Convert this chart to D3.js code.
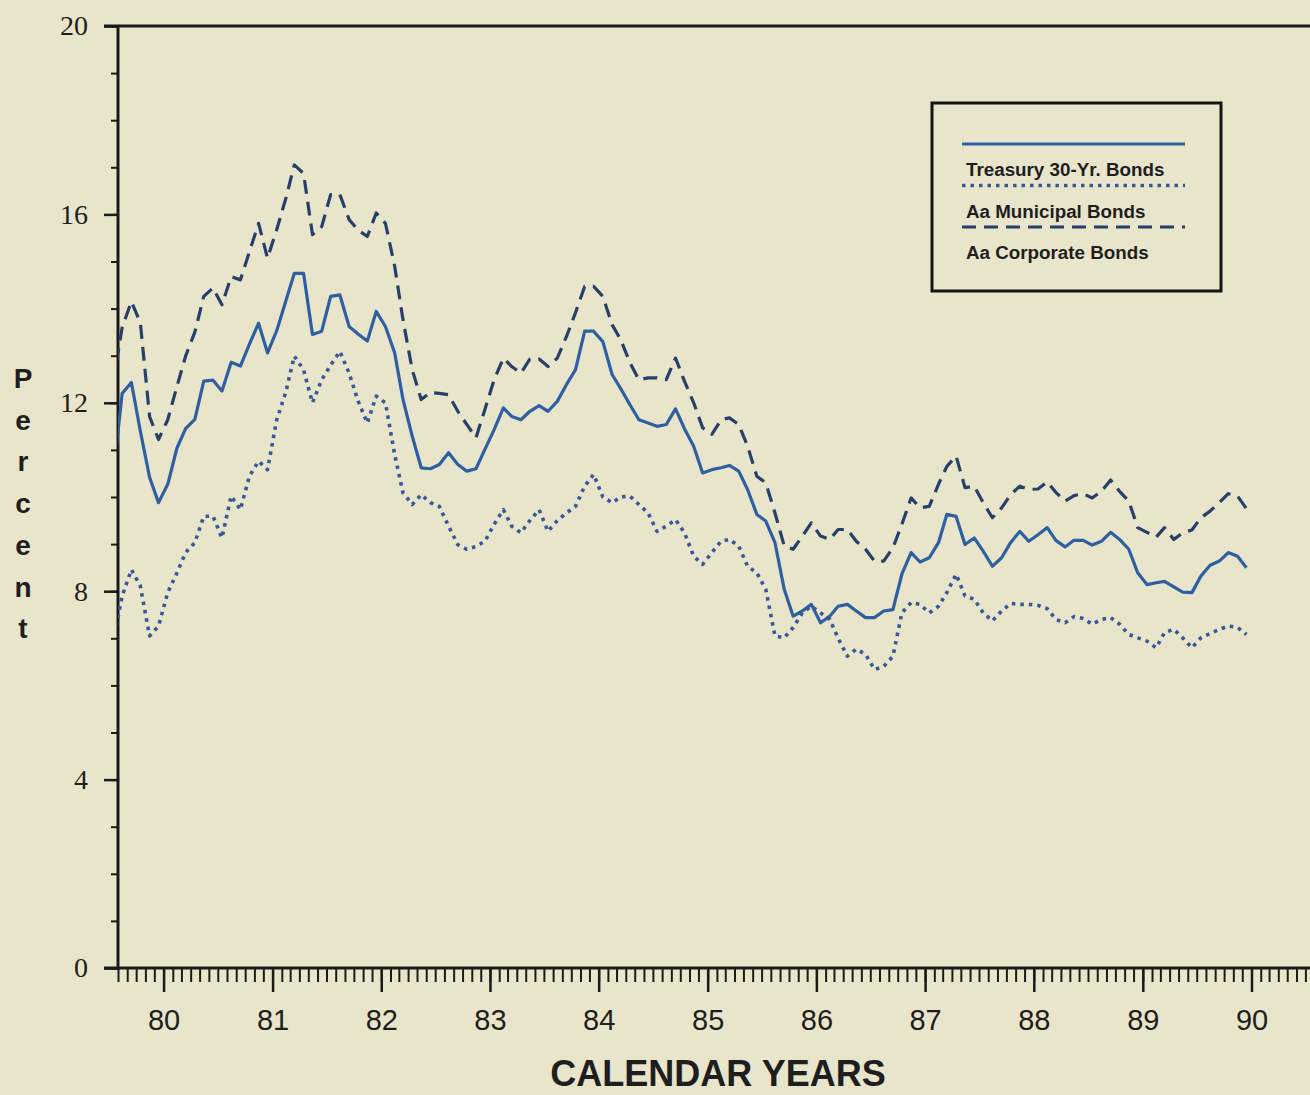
<!DOCTYPE html>
<html>
<head>
<meta charset="utf-8">
<script src="https://cdn.jsdelivr.net/npm/d3@7"></script>
<style>
  html, body { margin: 0; padding: 0; background: #e9e5cb; }
  svg { display: block; }
</style>
</head>
<body>
<svg></svg>
<script>
// monthly averages, Jul 1979 .. Dec 1989 (first point is clipped by the axis)
const firstMonth = new Date(1979, 6, 15);

const treasury = [
  10.4, 12.2, 12.43, 11.4, 10.42, 9.88, 10.27, 11.04, 11.45, 11.65, 12.46, 12.48, 12.25,
  12.86, 12.78, 13.24, 13.69, 13.06, 13.53, 14.17, 14.75, 14.75, 13.45, 13.52, 14.26,
  14.29, 13.62, 13.46, 13.31, 13.94, 13.62, 13.06, 12.07, 11.29, 10.62, 10.6, 10.69,
  10.94, 10.69, 10.55, 10.6, 11.01, 11.43, 11.89, 11.71, 11.64, 11.82, 11.94, 11.82,
  12.03, 12.39, 12.7, 13.52, 13.52, 13.3, 12.6, 12.3, 11.96, 11.64, 11.57, 11.5, 11.54,
  11.87, 11.45, 11.08, 10.51, 10.58, 10.62, 10.67, 10.55, 10.16, 9.63, 9.49, 9.03, 8.04,
  7.47, 7.58, 7.72, 7.33, 7.47, 7.68, 7.72, 7.58, 7.44, 7.44, 7.58, 7.61, 8.36, 8.82,
  8.62, 8.71, 9.03, 9.63, 9.59, 8.99, 9.13, 8.85, 8.53, 8.71, 9.03, 9.27, 9.06, 9.2,
  9.35, 9.08, 8.94, 9.08, 9.08, 8.98, 9.06, 9.25, 9.1, 8.89, 8.39, 8.14, 8.18, 8.21,
  8.09, 7.98, 7.97, 8.32, 8.55, 8.64, 8.82, 8.74, 8.5
];

const municipal = [
  6.9, 7.9, 8.46, 8.11, 7.05, 7.26, 7.97, 8.39, 8.82, 9.03, 9.59, 9.59, 9.13, 10.02,
  9.73, 10.44, 10.76, 10.58, 11.64, 12.24, 12.99, 12.7, 12.0, 12.49, 12.8, 13.09, 12.63,
  12.04, 11.57, 12.14, 12.0, 10.9, 10.09, 9.84, 10.05, 9.88, 9.8, 9.38, 8.99, 8.89,
  8.95, 9.06, 9.42, 9.73, 9.38, 9.24, 9.5, 9.73, 9.27, 9.5, 9.66, 9.8, 10.23, 10.48,
  10.0, 9.88, 10.0, 10.02, 9.84, 9.66, 9.27, 9.38, 9.52, 9.24, 8.74, 8.57, 8.82, 9.06,
  9.1, 8.96, 8.53, 8.39, 8.04, 7.05, 7.01, 7.23, 7.54, 7.68, 7.54, 7.4, 7.0, 6.62, 6.77,
  6.66, 6.34, 6.4, 6.62, 7.54, 7.76, 7.72, 7.54, 7.68, 7.97, 8.36, 7.9, 7.83, 7.54,
  7.37, 7.58, 7.74, 7.72, 7.72, 7.7, 7.63, 7.4, 7.33, 7.46, 7.42, 7.3, 7.4, 7.44, 7.3,
  7.08, 7.01, 6.94, 6.8, 7.12, 7.19, 7.01, 6.8, 7.01, 7.1, 7.19, 7.26, 7.23, 7.08
];

const corporate = [
  12.4, 13.6, 14.15, 13.7, 11.71, 11.22, 11.64, 12.35, 12.99, 13.5, 14.26, 14.44, 14.08,
  14.68, 14.61, 15.2, 15.81, 15.07, 15.68, 16.35, 17.05, 16.87, 15.57, 15.74, 16.42,
  16.42, 15.89, 15.67, 15.53, 16.03, 15.81, 14.9, 13.76, 12.7, 12.07, 12.22, 12.2,
  12.17, 11.82, 11.54, 11.26, 11.86, 12.49, 12.95, 12.77, 12.63, 12.93, 12.93, 12.77,
  12.95, 13.41, 13.91, 14.47, 14.47, 14.26, 13.66, 13.34, 12.85, 12.49, 12.53, 12.53,
  12.49, 12.95, 12.46, 12.0, 11.47, 11.33, 11.64, 11.68, 11.54, 11.08, 10.44, 10.3,
  9.66, 8.96, 8.89, 9.17, 9.45, 9.17, 9.1, 9.31, 9.31, 9.06, 8.89, 8.64, 8.64, 8.92,
  9.42, 9.98, 9.77, 9.8, 10.27, 10.65, 10.87, 10.2, 10.23, 9.88, 9.56, 9.77, 10.05,
  10.23, 10.16, 10.17, 10.32, 10.1, 9.91, 10.03, 10.07, 9.98, 10.12, 10.36, 10.12, 9.91,
  9.35, 9.25, 9.15, 9.35, 9.1, 9.24, 9.3, 9.56, 9.7, 9.88, 10.07, 10.02, 9.75
];

const seriesNames = ['Treasury 30-Yr. Bonds', 'Aa Municipal Bonds', 'Aa Corporate Bonds'];
const seriesValues = [treasury, municipal, corporate];
const yTicks = [0, 4, 8, 12, 16, 20];
const yLabel = 'Percent';
const xLabel = 'CALENDAR YEARS';

const styles = [
  { color: '#2f5fa3', width: 3.2, dash: null },
  { color: '#34589a', width: 3.6, dash: '3.5,5' },
  { color: '#27406b', width: 3.2, dash: '14,8' }
];

const W = 1310, H = 1095;
const svg = d3.select('svg').attr('width', W).attr('height', H);

const x0 = d3.scaleTime()
  .domain([new Date(1979, 7, 1), new Date(1990, 0, 1)])
  .range([118, 1251.5]);
const x = d3.scaleTime()
  .domain([x0.domain()[0], x0.invert(W)])
  .range([118, W]);
const y = d3.scaleLinear().domain([0, 20]).range([968, 26]);

const monthDate = i => d3.timeMonth.offset(firstMonth, i);

svg.append('defs').append('clipPath').attr('id', 'plot')
  .append('rect')
  .attr('x', x.range()[0]).attr('y', 0)
  .attr('width', W - x.range()[0]).attr('height', y(0));

// y axis: minor ticks every 1 %, labelled every 4 %
svg.append('g')
  .attr('transform', `translate(${x.range()[0]},0)`)
  .call(d3.axisLeft(y).tickValues(d3.range(0, 21)).tickSize(7).tickFormat(''))
  .call(g => g.select('.domain').remove())
  .call(g => g.selectAll('line').attr('stroke', '#1a1a1a').attr('stroke-width', 2));

svg.append('g')
  .attr('transform', `translate(${x.range()[0]},0)`)
  .call(d3.axisLeft(y).tickValues(yTicks).tickSize(14).tickPadding(16))
  .call(g => g.select('.domain').remove())
  .call(g => g.selectAll('line').attr('stroke', '#1a1a1a').attr('stroke-width', 2.5))
  .call(g => g.selectAll('text')
    .attr('fill', '#1e1e1e')
    .style('font-family', '"Liberation Serif", "Times New Roman", serif')
    .style('font-size', '28px'));

// x axis: monthly minor ticks, yearly major ticks
svg.append('g')
  .attr('transform', `translate(0,${y(0)})`)
  .call(d3.axisBottom(x).ticks(d3.timeMonth.every(1)).tickSize(14).tickFormat(''))
  .call(g => g.select('.domain').remove())
  .call(g => g.selectAll('line').attr('stroke', '#1a1a1a').attr('stroke-width', 2));

svg.append('g')
  .attr('transform', `translate(0,${y(0)})`)
  .call(d3.axisBottom(x).ticks(d3.timeYear.every(1)).tickSize(24).tickPadding(17)
    .tickFormat(d3.timeFormat('%y')))
  .call(g => g.select('.domain').remove())
  .call(g => g.selectAll('line').attr('stroke', '#1a1a1a').attr('stroke-width', 2.5))
  .call(g => g.selectAll('text')
    .attr('fill', '#1e1e1e')
    .style('font-family', '"Liberation Sans", Arial, sans-serif')
    .style('font-size', '29px'));

// frame lines
svg.append('line')
  .attr('x1', 104).attr('x2', W)
  .attr('y1', y(20)).attr('y2', y(20))
  .attr('stroke', '#1a1a1a').attr('stroke-width', 3);
svg.append('line')
  .attr('x1', 104).attr('x2', W)
  .attr('y1', y(0)).attr('y2', y(0))
  .attr('stroke', '#1a1a1a').attr('stroke-width', 3);
svg.append('line')
  .attr('x1', x.range()[0]).attr('x2', x.range()[0])
  .attr('y1', y(20)).attr('y2', y(0) + 2)
  .attr('stroke', '#1a1a1a').attr('stroke-width', 3);

// series
const line = d3.line()
  .x((d, i) => x(monthDate(i)))
  .y(d => y(d));

svg.append('g')
  .attr('clip-path', 'url(#plot)')
  .selectAll('path')
  .data(seriesValues)
  .join('path')
  .attr('d', line)
  .attr('fill', 'none')
  .attr('stroke', (d, i) => styles[i].color)
  .attr('stroke-width', (d, i) => styles[i].width)
  .attr('stroke-dasharray', (d, i) => styles[i].dash)
  .attr('stroke-linejoin', 'round');

// legend
const legend = svg.append('g').attr('transform', 'translate(932,103)');
legend.append('rect')
  .attr('width', 289).attr('height', 188)
  .attr('fill', 'none').attr('stroke', '#141414').attr('stroke-width', 3);

const item = legend.selectAll('g.item')
  .data(seriesNames)
  .join('g')
  .attr('class', 'item')
  .attr('transform', (d, i) => `translate(0,${i * 41.5})`);

item.append('line')
  .attr('x1', 30).attr('x2', 253)
  .attr('y1', 41).attr('y2', 41)
  .attr('stroke', (d, i) => styles[i].color)
  .attr('stroke-width', (d, i) => styles[i].width)
  .attr('stroke-dasharray', (d, i) => styles[i].dash);

item.append('text')
  .attr('x', 34).attr('y', 73)
  .attr('fill', '#1e1e1e')
  .style('font-family', '"Liberation Sans", Arial, sans-serif')
  .style('font-weight', 'bold')
  .style('font-size', '18.8px')
  .text(d => d);

// axis titles
svg.append('g')
  .selectAll('text')
  .data(yLabel.split(''))
  .join('text')
  .attr('x', 23)
  .attr('y', (d, i) => 388 + i * 41.7)
  .attr('text-anchor', 'middle')
  .attr('fill', '#1e1e1e')
  .style('font-family', '"Liberation Sans", Arial, sans-serif')
  .style('font-weight', 'bold')
  .style('font-size', '28px')
  .text(d => d);

svg.append('text')
  .attr('x', 718).attr('y', 1086)
  .attr('text-anchor', 'middle')
  .attr('fill', '#1e1e1e')
  .style('font-family', '"Liberation Sans", Arial, sans-serif')
  .style('font-weight', 'bold')
  .style('font-size', '36px')
  .text(xLabel);
</script>
</body>
</html>
